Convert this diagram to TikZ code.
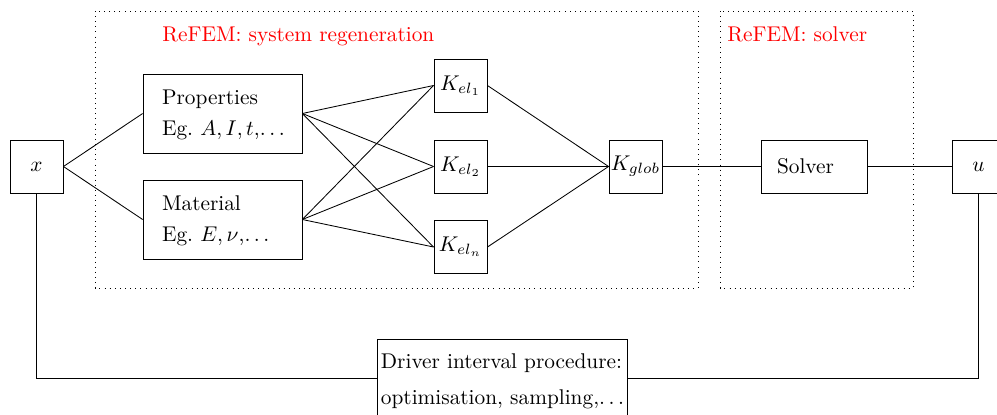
\documentclass[tikz,border=0pt]{standalone}
\begin{document}
\begin{tikzpicture}[x=0.469pt,y=-0.469pt,
  every node/.style={font=\fontsize{10}{12}\selectfont},
  blk/.style={draw, inner sep=0pt, minimum width=24.9pt, minimum height=24.9pt},
  txtbox/.style={draw, align=left, inner ysep=0pt, minimum height=37.1pt},
  grp/.style={draw, dotted},
  grplabel/.style={text=red, anchor=base west, inner sep=0pt},
  wire/.style={draw}]
\useasboundingbox (0,0) rectangle (997,414);
\clip (0,0) rectangle (997,414);

% grouping frames
\draw[grp] (95,11) rectangle (698,288);
\draw[grp] (720,11) rectangle (913,288);
\node[grplabel] (lblsys) at (162,41.5) {ReFEM: system regeneration};
\node[grplabel] (lblsol) at (727,41.5) {ReFEM: solver};

% input and parameter blocks (struts fix the baselines inside the boxes)
\node[blk] (xin) at (36.5,166.5) {$x$};
\node[txtbox, text width=56.7pt, inner xsep=8.9pt] (prop) at (222.5,113.5)
  {\rule{0pt}{14.5pt}Properties\\[2.4pt]\mbox{Eg.\ $A, I, t$,$\ldots$}\rule[-8.1pt]{0pt}{8.1pt}};
\node[txtbox, text width=56.7pt, inner xsep=8.9pt] (mat) at (222.5,219.5)
  {\rule{0pt}{14.3pt}Material\\[2.4pt]\mbox{Eg.\ $E, \nu$,$\ldots$}\rule[-8.3pt]{0pt}{8.3pt}};

% element matrices
\node[blk] (k1) at (460.5,85.5) {$K_{el_1}$};
\node[blk] (k2) at (460.5,166.5) {$K_{el_2}$};
\node[blk] (kn) at (460.5,247) {$K_{el_n}$};
\node[blk] (kg) at (635.5,166.5) {$K_{glob}$};

% solver and output
\node[txtbox, minimum height=24.9pt, text width=34.7pt, inner xsep=7.5pt] (solver) at (814,166.5) {Solver};
\node[blk] (uout) at (978.5,166.5) {$u$};

% outer driver loop
\node[draw, align=left, inner xsep=1.6pt, inner ysep=0pt, minimum height=36.6pt] (drv) at (502.5,378.5)
  {\rule{0pt}{13.7pt}Driver interval procedure:\\[4.8pt]optimisation, sampling,$\ldots$\rule[-6.1pt]{0pt}{6.1pt}};

% connectors
\draw (xin.east) -- (prop.west);
\draw (xin.east) -- (mat.west);
\foreach \s in {prop,mat}{
  \foreach \k in {k1,k2,kn}{
    \draw (\s.east) -- (\k.west);
  }
}
\foreach \k in {k1,k2,kn}{
  \draw (\k.east) -- (kg.west);
}
\draw (kg.east) -- (solver.west);
\draw (solver.east) -- (uout.west);
\draw (xin.south) |- (drv.west);
\draw (uout.south) |- (drv.east);
\end{tikzpicture}
\end{document}
